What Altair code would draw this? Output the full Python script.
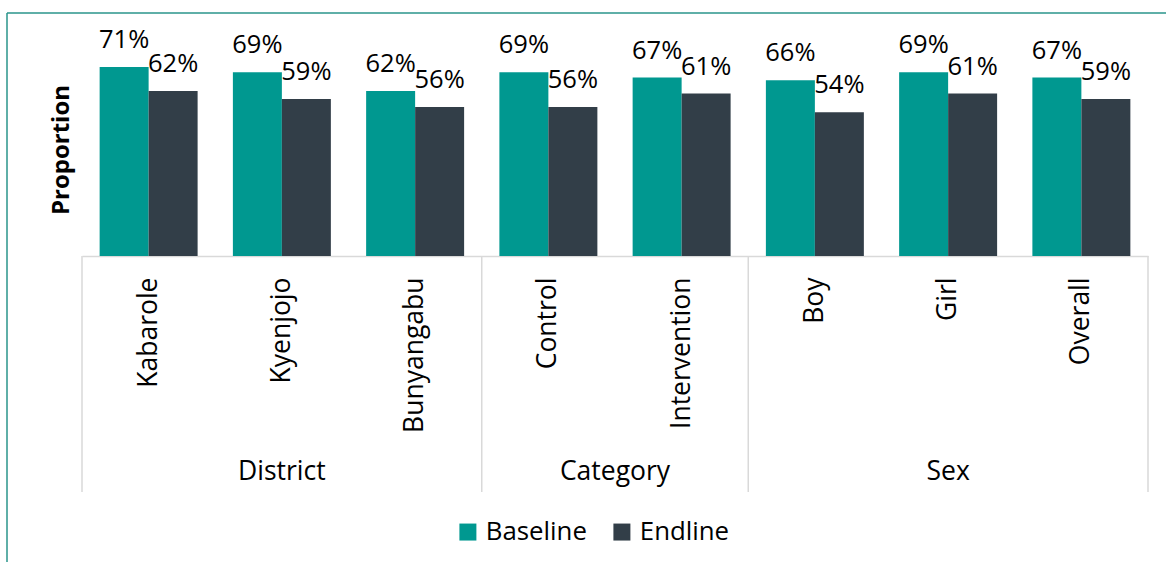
import altair as alt
import pandas as pd

categories = ["Kabarole", "Kyenjojo", "Bunyangabu", "Control", "Intervention", "Boy", "Girl", "Overall"]
baseline = [71, 69, 62, 69, 67, 66, 69, 67]
endline = [62, 59, 56, 56, 61, 54, 61, 59]
series = ["Baseline", "Endline"]
colors = ["#009890", "#323E48"]
group_left_edges = ["Kabarole", "Control", "Boy"]
group_right_edges = ["Overall"]
group_names_mid = ["District", "Sex"]
group_anchor_mid = ["Kyenjojo", "Girl"]
group_names_edge = ["Category"]
group_anchor_edge = ["Intervention"]

FONT = "Open Sans"

rows = []
for c, b, e in zip(categories, baseline, endline):
    rows.append({"cat": c, "series": "Baseline", "value": b, "label": f"{b}%"})
    rows.append({"cat": c, "series": "Endline", "value": e, "label": f"{e}%"})
df = pd.DataFrame(rows)

xscale = alt.Scale(domain=categories, paddingInner=0, paddingOuter=0)
yscale = alt.Scale(domain=[0, 80])
offscale = alt.Scale(domain=series, paddingInner=0, paddingOuter=0.36)

x_axis = alt.Axis(title="", labelAngle=-90, labelFontSize=26.5, labelFont=FONT,
                  labelColor="#000000", labelPadding=21, ticks=False, tickSize=0,
                  domainColor="#d9d9d9", domainWidth=1.5, grid=False,
                  labelAlign="right", labelBaseline="middle")
y_axis = alt.Axis(title="Proportion", labels=False, ticks=False, domain=False, grid=False,
                  titleFont=FONT, titleFontSize=24, titleFontWeight="bold",
                  titleColor="#000000", titlePadding=9)


def xenc(band=None):
    if band is None:
        return alt.X("cat:N", scale=xscale, sort=categories, axis=x_axis)
    return alt.X("cat:N", scale=xscale, sort=categories, axis=x_axis, bandPosition=band)


bars = alt.Chart(df).mark_bar().encode(
    x=xenc(),
    xOffset=alt.XOffset("series:N", scale=offscale, sort=series),
    y=alt.Y("value:Q", scale=yscale, axis=y_axis),
    color=alt.Color("series:N", scale=alt.Scale(domain=series, range=colors), sort=series,
                    legend=alt.Legend(title=None, orient="none", legendX=373, legendY=476,
                                      direction="horizontal", symbolType="square", symbolSize=289,
                                      symbolStrokeWidth=0, labelFontSize=25.8, labelFont=FONT,
                                      labelColor="#000000", labelOffset=5, columnPadding=22,
                                      padding=0)),
)

labels = alt.Chart(df).mark_text(dy=-19, baseline="alphabetic", fontSize=25.5, font=FONT,
                                 color="#000000").encode(
    x=xenc(),
    xOffset=alt.XOffset("series:N", scale=offscale, sort=series),
    y=alt.Y("value:Q", scale=yscale, axis=y_axis),
    text="label:N",
)

sep_left = alt.Chart(pd.DataFrame({"cat": group_left_edges})).mark_rule(
    color="#d9d9d9", strokeWidth=1.5).encode(
    x=xenc(0), y=alt.value(213), y2=alt.value(449),
)
sep_right = alt.Chart(pd.DataFrame({"cat": group_right_edges})).mark_rule(
    color="#d9d9d9", strokeWidth=1.5).encode(
    x=xenc(1), y=alt.value(213), y2=alt.value(449),
)

grp_mid = alt.Chart(pd.DataFrame({"cat": group_anchor_mid, "name": group_names_mid})).mark_text(
    fontSize=26.5, font=FONT, color="#000000", baseline="middle").encode(
    x=xenc(0.5), y=alt.value(429), text="name:N",
)
grp_edge = alt.Chart(pd.DataFrame({"cat": group_anchor_edge, "name": group_names_edge})).mark_text(
    fontSize=26.5, font=FONT, color="#000000", baseline="middle").encode(
    x=xenc(0), y=alt.value(429), text="name:N",
)

one = pd.DataFrame({"k": [0]})
frame_top = alt.Chart(one).mark_rule(color="#2a958b", strokeWidth=1.5).encode(
    x=alt.value(-75), x2=alt.value(1090), y=alt.value(-30))
frame_left = alt.Chart(one).mark_rule(color="#2a958b", strokeWidth=1.5).encode(
    x=alt.value(-75), y=alt.value(-30), y2=alt.value(525))

chart = alt.layer(bars, labels, sep_left, sep_right, grp_mid, grp_edge, frame_top, frame_left).resolve_scale(
    x="shared"
).properties(
    width=1066, height=213,
    padding={"left": 82, "top": 43, "right": 18, "bottom": 306},
    autosize="none", background="#ffffff",
).configure_view(stroke=None)

chart.save("out.html", embed_options={"renderer": "svg", "actions": False})
